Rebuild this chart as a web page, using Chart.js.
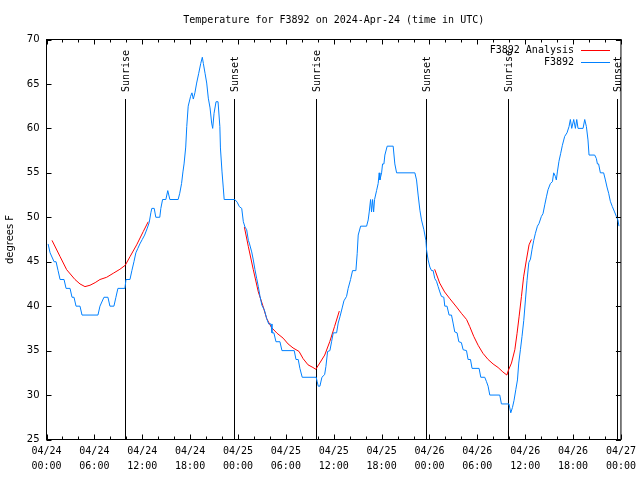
<!DOCTYPE html>
<html>
<head>
<meta charset="utf-8">
<script src="https://cdn.jsdelivr.net/npm/chart.js@4.4.1/dist/chart.umd.min.js"></script>
<style>
  html, body { margin: 0; padding: 0; background: #fff; }
  canvas { display: block; }
</style>
</head>
<body>
<canvas id="chart" width="640" height="480"></canvas>
<script>
// hours since 04/24 00:00 UTC
const obsHours = [0.2, 0.45, 0.95, 1.2, 1.45, 1.7, 2.2, 2.45, 2.95, 3.2, 3.45, 3.7, 4.2, 4.45, 6.45, 6.7, 7.2, 7.7, 7.95, 8.45,
  8.7, 8.95, 9.83, 9.96, 10.46, 10.7, 10.96, 11.2, 11.45, 11.7, 12.0, 12.3, 12.6, 12.87, 13.08, 13.2, 13.5, 13.7, 14.2, 14.33,
  14.55, 14.96, 15.2, 15.46, 16.5, 16.7, 16.93, 17.1, 17.24, 17.45, 17.58, 17.76, 18.06, 18.23, 18.4, 18.6, 18.82, 19.08, 19.33, 19.53,
  19.66, 19.87, 20.08, 20.28, 20.5, 20.7, 20.83, 21.0, 21.25, 21.5, 21.73, 21.8, 22.0, 22.15, 22.27, 23.6, 23.9, 24.17, 24.47, 24.67,
  24.88, 25.09, 25.3, 25.42, 25.72, 25.92, 26.13, 26.35, 26.55, 26.76, 27.0, 27.3, 27.6, 27.85, 28.14, 28.26, 28.5, 28.76, 29.26, 29.51,
  31.05, 31.27, 31.55, 31.76, 32.05, 33.8, 33.93, 34.06, 34.27, 34.52, 34.86, 35.02, 35.23, 35.52, 35.73, 35.94, 36.36, 36.56, 36.78, 37.06,
  37.28, 37.61, 37.81, 38.11, 38.36, 38.78, 38.94, 39.07, 39.37, 40.12, 40.32, 40.45, 40.62, 40.74, 40.87, 41.0, 41.12, 41.37, 41.57, 41.7,
  41.79, 42.0, 42.12, 42.29, 42.41, 42.7, 43.45, 43.66, 43.88, 46.17, 46.38, 46.58, 46.8, 47.0, 47.3, 47.55, 47.64, 47.83, 48.05, 48.26,
  48.46, 48.67, 48.88, 49.09, 49.3, 49.5, 49.8, 49.92, 50.2, 50.46, 50.76, 50.96, 51.17, 51.46, 51.68, 52.0, 52.22, 52.64, 52.84, 53.14,
  53.34, 54.22, 54.43, 54.93, 55.15, 55.35, 55.56, 56.81, 57.02, 57.97, 58.19, 58.4, 58.6, 58.82, 59.03, 59.19, 59.4, 59.6, 59.82, 60.03,
  60.23, 60.45, 60.66, 60.86, 61.07, 61.28, 61.53, 61.73, 62.03, 62.23, 62.45, 62.66, 62.86, 63.16, 63.41, 63.57, 63.78, 63.9, 64.03, 64.23,
  64.45, 64.66, 64.95, 65.24, 65.49, 65.66, 65.83, 66.08, 66.29, 66.46, 66.62, 67.25, 67.46, 67.67, 67.87, 68.0, 68.71, 68.92, 69.05, 69.2,
  69.42, 69.83, 70.05, 70.25, 70.46, 70.67, 70.92, 71.2, 71.42, 71.62, 71.75]
const obsTemps = [47, 46, 45, 45, 44, 43, 43, 42, 42, 41, 41, 40, 40, 39, 39, 40, 41, 41, 40, 40,
  41, 42, 42, 43, 43, 44, 45, 46, 46.5, 47, 47.5, 48, 48.7, 49.4, 50.5, 51, 51, 50, 50, 51,
  52, 52, 53, 52, 52, 52.7, 53.8, 55.1, 56, 57.9, 60.2, 62.5, 63.6, 64, 63.3, 64, 65.1, 66.2, 67.3, 68,
  67.3, 66.2, 65.1, 63.4, 62.3, 60.6, 60, 61.7, 63, 63, 60.2, 57.8, 55.1, 53.4, 52, 52, 51.7, 51.2, 51, 49.5,
  48.9, 48.6, 47.4, 47.1, 46.1, 45.2, 44.1, 43.1, 42.2, 41.1, 40.1, 39.6, 38.6, 38, 38, 37, 37, 36, 36, 35,
  35, 34, 34, 33, 32, 32, 31.5, 31, 31, 32, 32.3, 33.2, 34.9, 35, 36, 37, 37, 38.1, 38.8, 39.8,
  40.6, 41.1, 42, 43, 44, 44, 45.9, 48, 49, 49, 49.7, 50.6, 52, 50.6, 52, 50.6, 52, 53, 53.8, 55,
  54.2, 55, 56, 56, 57, 58, 58, 56, 55, 55, 54.2, 52.5, 50.8, 49.7, 48.6, 47.4, 46.3, 45.2, 44.4, 44,
  44, 43.1, 42.8, 42.2, 41.6, 41.1, 41, 40, 40, 39, 39, 38.1, 37.1, 37, 36, 35.9, 35.1, 35, 34, 34,
  33, 33, 32, 32, 31.5, 31, 30, 30, 29, 29, 28, 28.6, 29.4, 30.6, 31.7, 33.6, 35.1, 36.6, 38.4, 40.7,
  42.9, 44.9, 45.3, 46.4, 47.4, 48.2, 49, 49.3, 50.1, 50.4, 51.4, 52.3, 53.1, 53.8, 54, 55, 54.6, 54.2, 55.1, 56.3,
  57.2, 58.1, 59.1, 59.5, 60.2, 61, 60, 61, 60, 61, 60, 60, 61, 60.2, 58.7, 57, 57, 56.6, 56, 56,
  55, 55, 54.2, 53.4, 52.7, 51.8, 51.2, 50.6, 50.1, 49.7, 49]

// analysis, null marks a gap between runs
const anaHours = [0.69, 1.69, 2.53, 3.57, 4.2, 4.82, 5.45, 6.1, 6.7, 7.54, 8.37, 9.2, 9.87, 10.46, 11.3, 12.13, 12.75,
  18,
  24.8, 25.3, 25.92, 26.55, 27.1, 27.6, 28.2, 28.9, 29.66, 30.28, 30.9, 31.66, 32.16, 32.78, 33.4, 33.75, 34.25, 34.87, 35.5, 36.1, 36.7,
  42,
  48.65, 49.28, 49.9, 50.5, 51.4, 52.0, 52.65, 53.05, 53.55, 54.1, 54.7, 55.35, 55.97, 56.6, 57.2, 57.7, 57.9, 58.28, 58.7, 58.98,
  59.23, 59.53, 59.8, 60.15, 60.48, 60.78]
const anaTemps = [47.4, 45.6, 44.1, 43.0, 42.5, 42.2, 42.35, 42.65, 43.0, 43.25, 43.7, 44.15, 44.6, 45.56, 46.9, 48.4, 49.5,
  null,
  48.9, 46.7, 44.1, 41.6, 40.1, 38.6, 37.6, 36.95, 36.4, 35.75, 35.3, 34.9, 34.1, 33.4, 33.1, 32.9, 33.6, 34.5, 36.0, 37.7, 39.45,
  null,
  44.15, 42.6, 41.6, 40.9, 39.9, 39.2, 38.5, 37.7, 36.6, 35.6, 34.7, 34.0, 33.5, 33.1, 32.6, 32.25, 32.8, 33.6, 35.1, 36.95,
  38.8, 41.1, 43.3, 45.2, 46.9, 47.5]

const sunriseHours = [9.87, 33.82, 57.85]
const sunsetHours = [23.52, 47.58, 71.5]
const dayLabels = ['04/24', '04/25', '04/26', '04/27']

const MONO = '"DejaVu Sans Mono", monospace'
const SANS = '"DejaVu Sans", sans-serif'

// gnuplot-ish frame: box, inward ticks, sun lines, legend
const gnuFrame = {
  id: 'gnuFrame',
  beforeDatasetsDraw(chart) {
    const {ctx, chartArea: a, scales: {x}} = chart
    ctx.save()
    ctx.strokeStyle = '#000'
    ctx.lineWidth = 1
    ctx.fillStyle = '#000'
    ctx.font = '10px ' + MONO
    ctx.textBaseline = 'middle'
    ctx.textAlign = 'left'
    const marks = sunriseHours.map(h => [h, 'Sunrise']).concat(sunsetHours.map(h => [h, 'Sunset']))
    marks.forEach(([h, label]) => {
      const px = Math.round(x.getPixelForValue(h)) + 0.5
      ctx.beginPath()
      ctx.moveTo(px, 99)
      ctx.lineTo(px, a.bottom)
      ctx.stroke()
      ctx.save()
      ctx.translate(px + 1, 92)
      ctx.rotate(-Math.PI / 2)
      ctx.fillText(label, 0, 0)
      ctx.restore()
    })
    ctx.restore()
  },
  afterDatasetsDraw(chart) {
    const {ctx, chartArea: a, scales: {x, y}} = chart
    ctx.save()
    ctx.strokeStyle = '#000'
    ctx.lineWidth = 1
    ctx.strokeRect(a.left, a.top, a.right - a.left, a.bottom - a.top)
    ctx.beginPath()
    for (let h = 0; h <= 72; h += 2) {
      const px = Math.round(x.getPixelForValue(h)) + 0.5
      const len = h % 6 === 0 ? 5 : 3
      ctx.moveTo(px, a.bottom); ctx.lineTo(px, a.bottom - len)
      ctx.moveTo(px, a.top); ctx.lineTo(px, a.top + len)
    }
    for (let t = 25; t <= 70; t += 5) {
      const py = Math.round(y.getPixelForValue(t)) + 0.5
      ctx.moveTo(a.left, py); ctx.lineTo(a.left + 5, py)
      ctx.moveTo(a.right, py); ctx.lineTo(a.right - 5, py)
    }
    ctx.stroke()

    // legend: text on the left, sample line on the right
    ctx.font = '10px ' + MONO
    ctx.textAlign = 'right'
    ctx.textBaseline = 'middle'
    ctx.fillStyle = '#000'
    chart.data.datasets.forEach((ds, i) => {
      const ly = 50.5 + i * 12
      ctx.fillText(ds.label, 574, ly)
      ctx.strokeStyle = ds.borderColor
      ctx.beginPath()
      ctx.moveTo(581, ly)
      ctx.lineTo(610, ly)
      ctx.stroke()
    })
    ctx.restore()
  }
}

const config = {
  type: 'line',
  data: {
    datasets: [
      {
        label: 'F3892 Analysis',
        data: anaHours.map((h, i) => ({x: h, y: anaTemps[i]})),
        borderColor: '#ff0000',
        borderWidth: 1,
        pointRadius: 0,
        spanGaps: false,
        order: 1
      },
      {
        label: 'F3892',
        data: obsHours.map((h, i) => ({x: h, y: obsTemps[i]})),
        borderColor: '#0080ff',
        borderWidth: 1,
        pointRadius: 0,
        order: 0
      }
    ]
  },
  options: {
    responsive: false,
    animation: false,
    devicePixelRatio: 1,
    layout: {padding: {left: 0, top: 0, right: 18.5, bottom: 0}},
    plugins: {
      legend: {display: false},
      tooltip: {enabled: false},
      title: {
        display: true,
        fullSize: false,
        text: 'Temperature for F3892 on 2024-Apr-24 (time in UTC)',
        color: '#000',
        font: {family: MONO, size: 10, weight: 'normal', lineHeight: 1.2},
        padding: {top: 14, bottom: 13.5}
      }
    },
    scales: {
      x: {
        type: 'linear',
        min: 0,
        max: 72,
        grid: {display: false, drawTicks: false},
        border: {display: false},
        ticks: {
          stepSize: 6,
          autoSkip: false,
          maxRotation: 0,
          padding: 4,
          color: '#000',
          font: {family: MONO, size: 10, lineHeight: 1.5},
          callback: v => {
            const day = dayLabels[Math.floor(v / 24)]
            const hh = String(v % 24).padStart(2, '0')
            return [day, hh + ':00']
          }
        },
        afterFit: s => { s.height = 40.5 }
      },
      y: {
        min: 25,
        max: 70,
        grid: {display: false, drawTicks: false},
        border: {display: false},
        ticks: {
          stepSize: 5,
          padding: 7,
          color: '#000',
          font: {family: SANS, size: 10}
        },
        title: {
          display: true,
          text: 'degrees F',
          color: '#000',
          font: {family: SANS, size: 10},
          padding: {top: 4, bottom: 0}
        },
        afterFit: s => { s.width = 46.5 }
      }
    }
  },
  plugins: [gnuFrame]
}

new Chart(document.getElementById('chart'), config)
</script>
</body>
</html>
